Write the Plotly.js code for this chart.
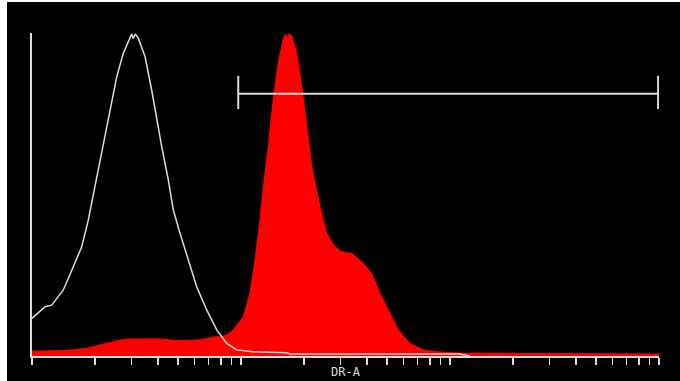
<!DOCTYPE html>
<html>
<head>
<meta charset="utf-8">
<script src="https://cdn.plot.ly/plotly-3.0.1.min.js"></script>
<style>
html,body{margin:0;padding:0;background:#ffffff;width:680px;height:381px;overflow:hidden;}
#plot{position:absolute;left:7px;top:2px;width:673px;height:379px;}
</style>
</head>
<body>
<div id="plot"></div>
<script>
// Control (unstained) histogram — white outline
const ctrlX = [1.0, 1.154, 1.243, 1.412, 1.576, 1.729, 1.859, 2.002, 2.156, 2.318, 2.543, 2.734, 2.944, 3.0, 3.052, 3.12, 3.226, 3.473, 3.738, 3.877, 4.174, 4.489, 4.745, 5.108, 5.595, 6.138, 6.854, 7.651, 8.54, 9.537, 11.41, 12.74, 16.55, 17.16, 111.6, 124.6];
const ctrlY = [11.7, 15.3, 15.8, 20.5, 27.7, 33.9, 42.2, 52.6, 63.0, 74.3, 86.7, 94.0, 99.2, 100.0, 98.6, 100.0, 98.7, 93.0, 82.6, 76.4, 65.0, 54.7, 45.3, 38.1, 29.8, 21.5, 14.3, 8.1, 3.9, 1.9, 1.3, 1.2, 1.0, 0.6, 0.6, 0.0];

// DR-A stained histogram — red fill
const drX = [1.0, 1.466, 1.827, 2.278, 2.637, 2.944, 4.097, 4.923, 6.365, 7.37, 7.935, 8.54, 9.188, 10.26, 11.04, 11.67, 12.33, 12.79, 13.51, 14.27, 15.09, 15.94, 16.3, 16.55, 16.9, 17.48, 18.48, 19.52, 20.63, 21.8, 23.88, 25.7, 28.17, 30.33, 33.86, 38.48, 42.22, 46.24, 50.68, 56.57, 64.37, 74.5, 86.39, 103.4, 111.6, 200, 400, 600, 1000];
const drY = [1.5, 1.7, 2.4, 3.9, 5.0, 5.3, 5.3, 4.8, 5.0, 5.9, 6.0, 6.5, 8.1, 12.2, 19.5, 29.8, 42.2, 52.6, 65.0, 79.7, 91.3, 98.4, 100.0, 98.9, 100.0, 99.5, 94.0, 83.9, 71.4, 59.0, 46.4, 38.1, 33.9, 32.4, 31.9, 28.8, 25.7, 19.5, 14.3, 8.1, 3.9, 1.9, 1.3, 1.0, 0.9, 0.8, 0.7, 0.6, 0.6];

// Marker gate
const gateRange = [9.7, 990];
const gateLevel = 81.4;
const gateCap = [76.7, 87.0];

const axisLabel = "DR-A";

const lineCol = "#dcdcdc";

const traces = [
  {
    x: drX, y: drY, type: "scatter", mode: "lines",
    fill: "tozeroy", fillcolor: "#ff0000",
    line: {color: "#ff0000", width: 1},
    hoverinfo: "skip", showlegend: false
  },
  {
    x: ctrlX, y: ctrlY, type: "scatter", mode: "lines",
    line: {color: lineCol, width: 1.5},
    hoverinfo: "skip", showlegend: false
  },
  {
    x: [gateRange[0], gateRange[0], null, gateRange[0], gateRange[1], null, gateRange[1], gateRange[1]],
    y: [gateCap[0], gateCap[1], null, gateLevel, gateLevel, null, gateCap[0], gateCap[1]],
    type: "scatter", mode: "lines",
    line: {color: lineCol, width: 2},
    hoverinfo: "skip", showlegend: false
  }
];

const layout = {
  width: 673, height: 379,
  margin: {l: 25, r: 21, t: 31, b: 25, pad: 0},
  paper_bgcolor: "#000000",
  plot_bgcolor: "#000000",
  showlegend: false,
  xaxis: {
    type: "log", range: [0, 3],
    dtick: "D1",
    showticklabels: false,
    ticks: "outside", ticklen: 7, tickwidth: 1.5, tickcolor: lineCol,
    showline: true, linecolor: lineCol, linewidth: 2,
    showgrid: false, zeroline: false
  },
  yaxis: {
    range: [0, 100.3],
    showticklabels: false, ticks: "",
    showline: true, linecolor: lineCol, linewidth: 2,
    showgrid: false, zeroline: false
  },
  annotations: [{
    text: axisLabel, xref: "paper", yref: "paper", x: 0.5, y: 0,
    xanchor: "center", yanchor: "top", yshift: -7, showarrow: false,
    font: {family: "DejaVu Sans Mono", size: 12, color: lineCol}
  }]
};

Plotly.newPlot("plot", traces, layout, {displayModeBar: false, staticPlot: true});
</script>
</body>
</html>
